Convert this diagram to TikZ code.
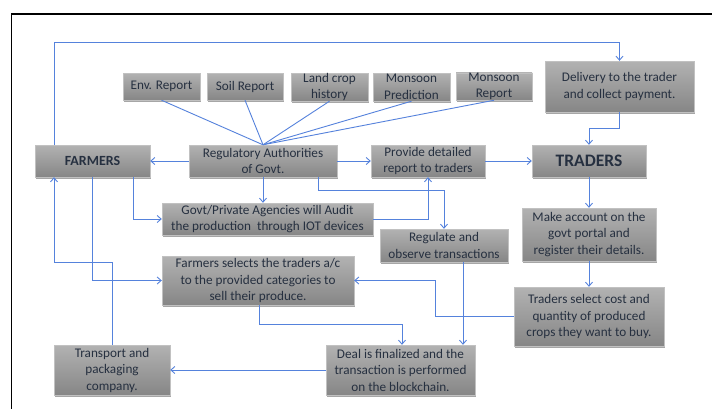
\documentclass[tikz,border=0pt]{standalone}
\usepackage{fontspec}
\setmainfont{Carlito}
\usetikzlibrary{arrows.meta,shadows}
\definecolor{lnblue}{RGB}{85,130,220}
\definecolor{txt}{RGB}{38,48,64}
\definecolor{boxtop}{RGB}{178,178,178}
\definecolor{boxbot}{RGB}{134,134,134}
\tikzset{
  bx/.style={rectangle, inner sep=0pt, align=center, text=txt,
    top color=boxtop, bottom color=boxbot, draw=boxtop!80!white, line width=0.4pt,
    drop shadow={shadow xshift=1.2pt, shadow yshift=-1.5pt, opacity=0.35, fill=black},
    font=\fontsize{13.2}{16.5}\selectfont},
  ln/.style={draw=lnblue, line width=0.9pt},
  arr/.style={ln, -{Straight Barb[length=4pt,width=7pt,line width=0.9pt]}},
}
\begin{document}
\begin{tikzpicture}[x=1pt,y=-1pt]
\useasboundingbox (0,0) rectangle (712,408);
\fill[white] (0,0) rectangle (712,408);
\draw[line width=1.8pt, black] (11.5,412) -- (11.5,14) -- (716,14);

\node[bx, minimum width=77pt, minimum height=27pt] (env) at (161.5,86.5) {Env. Report};
\node[bx, minimum width=76pt, minimum height=27pt] (soil) at (245,86.5) {Soil Report};
\node[bx, minimum width=77pt, minimum height=28pt] (land) at (329.5,87) {Land crop\\history};
\node[bx, minimum width=77pt, minimum height=28pt] (mpred) at (411.5,87) {Monsoon\\Prediction};
\node[bx, minimum width=76pt, minimum height=27pt] (mrep) at (494,86.5) {Monsoon\\Report};
\node[bx, minimum width=149pt, minimum height=51pt] (deliv) at (619.5,86.5) {Delivery to the trader\\and collect payment.};
\node[bx, minimum width=115pt, minimum height=32pt, font=\fontsize{14}{16}\selectfont\bfseries] (farmers) at (92.5,161) {FARMERS};
\node[bx, minimum width=148pt, minimum height=32pt] (reg) at (263,161) {Regulatory Authorities\\of Govt.};
\node[bx, minimum width=114pt, minimum height=32pt] (prov) at (428,161) {Provide detailed\\report to traders};
\node[bx, minimum width=114pt, minimum height=32pt, font=\fontsize{17.5}{19}\selectfont\bfseries] (traders) at (589,161) {TRADERS};
\node[bx, minimum width=211pt, minimum height=32pt] (govt) at (267.5,219) {Govt/Private Agencies will Audit\\the production\ \ through IOT devices};
\node[bx, minimum width=128pt, minimum height=33pt] (regulate) at (444,245.5) {Regulate and\\observe transactions};
\node[bx, minimum width=134pt, minimum height=53pt] (makeacc) at (589,234.5) {Make account on the\\govt portal and\\register their details.};
\node[bx, minimum width=192pt, minimum height=49pt] (fsel) at (258,280.5) {Farmers selects the traders a/c\\to the provided categories to\\sell their produce.};
\node[bx, minimum width=150pt, minimum height=59pt] (tsel) at (589,316.5) {Traders select cost and\\quantity of produced\\crops they want to buy.};
\node[bx, minimum width=116pt, minimum height=50pt] (transport) at (112,370) {Transport and\\packaging\\company.};
\node[bx, minimum width=149pt, minimum height=50pt] (deal) at (400.5,370) {Deal is finalized and the\\transaction is performed\\on the blockchain.};

% report lines
\draw[ln] (env.south) -- (reg.north);
\draw[ln] (soil.south) -- (reg.north);
\draw[ln] (land.south) -- (reg.north);
\draw[ln] (mpred.south) -- (reg.north);
\draw[ln] (mrep.south) -- (reg.north);

% top loop
\draw[arr] (54,0 |- farmers.north) -- (54,42) -| (deliv.north);
\draw[arr] (deliv.south) -- (619.5,128) -| (traders.north);

\draw[arr] (reg.west) -- (farmers.east);
\draw[arr] (reg.east) -- (prov.west);
\draw[arr] (prov.east) -- (traders.west);
\draw[arr] (traders.south) -- (makeacc.north);
\draw[arr] (makeacc.south) -- (tsel.north);
\draw[arr] (reg.south) -- (reg.south |- govt.north);
\draw[arr] (133,0 |- farmers.south) |- (govt.west);
\draw[arr] (govt.east) -| (prov.south);
\draw[arr] (318,0 |- reg.south) -- (318,190) -| (regulate.north);
\draw[arr] (92,0 |- farmers.south) |- (fsel.west);
\draw[arr] (transport.north) |- (54,262) -- (54,0 |- farmers.south);
\draw[arr] (tsel.west) -- (435,0 |- tsel.west) |- (fsel.east);
\draw[arr] (463,0 |- regulate.south) -- (463,0 |- deal.north);
\draw[arr] (259,0 |- fsel.south) |- (402,324) -- (402,0 |- deal.north);
\draw[arr] (deal.west) -- (transport.east);
\end{tikzpicture}
\end{document}
